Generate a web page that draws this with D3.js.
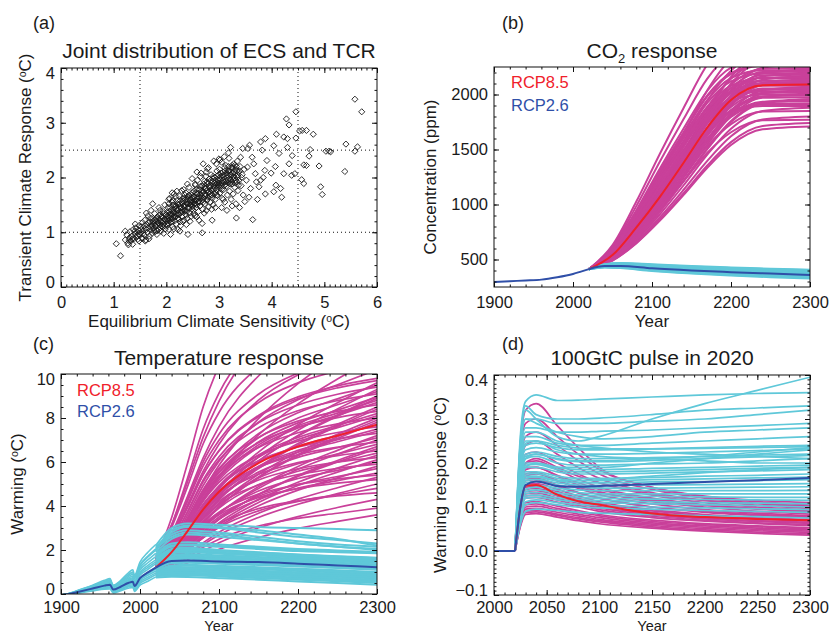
<!DOCTYPE html>
<html>
<head>
<meta charset="utf-8">
<script src="https://cdnjs.cloudflare.com/ajax/libs/d3/7.8.5/d3.min.js"></script>
<style>
body { margin: 0; background: #fff; }
svg text { font-family: Arial, "Liberation Sans", Helvetica, sans-serif; fill: #1a1a1a; }
</style>
</head>
<body>
<svg id="chart" width="831" height="635"></svg>
<script>

// ---------- panel (a): ECS vs TCR ----------
var ecsTcr = [
 [1.05,0.79],[1.13,0.57],[1.22,0.86],[1.25,0.95],[1.27,0.80],[1.30,0.90],[1.31,1.01],[1.33,0.84],[1.35,0.93],[1.37,1.05],
 [1.38,0.88],[1.40,0.97],[1.42,1.08],[1.43,0.91],[1.45,1.00],[1.46,0.87],[1.48,1.12],[1.49,0.95],[1.28,0.77],[1.36,0.78],
 [1.41,1.15],[1.47,1.04],[1.22,1.02],[1.29,0.85],
 [1.51,0.99],[1.52,1.10],[1.54,0.90],[1.55,1.18],[1.56,1.03],[1.58,0.95],[1.59,1.22],[1.60,1.07],[1.61,0.86],[1.63,1.14],
 [1.64,1.00],[1.65,1.30],[1.66,1.08],[1.68,0.93],[1.69,1.19],[1.70,1.04],[1.71,1.40],[1.72,1.12],[1.73,0.98],[1.75,1.25],
 [1.76,1.07],[1.77,1.16],[1.78,1.34],[1.79,1.01],[1.80,1.21],[1.81,1.11],[1.82,0.96],[1.83,1.28],[1.84,1.17],[1.85,1.05],
 [1.86,1.45],[1.87,1.23],[1.88,1.13],[1.89,1.33],[1.90,1.02],[1.91,1.19],[1.92,1.27],[1.93,1.09],[1.94,1.38],[1.95,1.15],
 [1.96,1.24],[1.97,1.50],[1.98,1.06],[1.99,1.31],[1.74,1.52],[1.62,1.35],[1.67,0.88],[1.60,0.84],[1.83,1.03],
 [2.00,1.20],[2.01,1.36],[2.02,1.12],[2.03,1.45],[2.04,1.27],[2.05,1.05],[2.06,1.62],[2.07,1.33],[2.08,1.18],[2.09,1.41],
 [2.10,1.25],[2.11,1.55],[2.12,1.10],[2.13,1.37],[2.14,1.29],[2.15,1.70],[2.16,1.21],[2.17,1.47],[2.18,1.34],[2.19,1.15],
 [2.20,1.58],[2.21,1.40],[2.22,1.26],[2.23,1.51],[2.24,1.32],[2.25,1.66],[2.26,1.19],[2.27,1.44],[2.28,1.36],[2.29,1.76],
 [2.30,1.28],[2.31,1.53],[2.32,1.42],[2.33,1.22],[2.34,1.62],[2.35,1.47],[2.36,1.33],[2.37,1.72],[2.38,1.55],[2.39,1.38],
 [2.40,1.25],[2.41,1.60],[2.42,1.46],[2.43,1.82],[2.44,1.35],[2.45,1.56],[2.46,1.50],[2.47,1.29],[2.48,1.68],[2.49,1.43],
 [2.12,1.58],[2.27,1.12],[2.38,1.14],[2.05,1.52],[2.18,1.65],[2.33,1.78],[2.45,1.20],[2.22,1.05],[2.08,0.96],[2.41,0.96],
 [2.11,1.72],
 [2.50,1.62],[2.51,1.40],[2.52,1.75],[2.53,1.52],[2.54,1.30],[2.55,1.86],[2.56,1.58],[2.57,1.45],[2.58,1.70],[2.59,1.95],
 [2.60,1.55],[2.61,1.38],[2.62,1.78],[2.63,1.63],[2.64,1.48],[2.65,2.02],[2.66,1.69],[2.67,1.57],[2.68,1.84],[2.69,1.42],
 [2.70,1.74],[2.71,1.62],[2.72,1.93],[2.73,1.52],[2.74,1.80],[2.75,1.68],[2.76,2.10],[2.77,1.58],[2.78,1.88],[2.79,1.73],
 [2.80,1.46],[2.81,1.97],[2.82,1.65],[2.83,1.82],[2.84,1.55],[2.85,2.05],[2.86,1.76],[2.87,1.62],[2.88,1.92],[2.89,1.50],
 [2.90,1.85],[2.91,1.71],[2.92,2.00],[2.93,1.60],[2.94,1.88],[2.95,1.78],[2.96,2.12],[2.97,1.67],[2.98,1.95],[2.99,1.83],
 [2.58,1.28],[2.72,1.35],[2.86,1.42],[2.66,2.08],[2.80,2.18],[2.68,0.99],[2.68,1.16],[2.87,1.22],[2.49,1.98],[2.78,2.16],
 [3.00,1.90],[3.01,2.15],[3.02,1.72],[3.03,2.02],[3.04,1.85],[3.05,2.28],[3.06,1.62],[3.07,1.95],[3.08,2.10],[3.09,1.78],
 [3.10,2.05],[3.11,1.55],[3.12,1.92],[3.13,2.22],[3.14,1.84],[3.15,2.00],[3.16,1.68],[3.17,2.12],[3.18,1.90],[3.19,2.35],
 [3.20,1.75],[3.21,2.05],[3.22,1.96],[3.23,1.60],[3.24,2.18],[3.25,1.88],[3.26,2.08],[3.27,1.70],[3.28,2.25],[3.29,1.98],
 [3.30,1.82],[3.31,2.14],[3.32,1.52],[3.33,2.02],[3.34,1.92],[3.35,2.30],[3.36,1.76],[3.37,2.10],[3.38,1.95],[3.40,2.20],
 [3.42,1.85],[3.44,2.05],[3.46,1.68],[3.48,2.15],[3.05,1.45],[3.15,1.40],[3.25,1.48],[3.10,2.38],[3.02,2.32],[3.00,2.34],
 [3.22,2.55],
 [1.62,1.05],[1.66,1.18],[1.71,1.09],[1.74,1.20],[1.78,1.12],[1.81,1.26],[1.85,1.18],[1.88,1.08],[1.91,1.29],[1.94,1.21],
 [1.97,1.12],[2.00,1.32],[2.02,1.24],[2.04,1.16],[2.06,1.38],[2.08,1.28],[2.10,1.19],[2.12,1.33],[2.14,1.42],[2.16,1.27],
 [2.18,1.48],[2.20,1.31],[2.22,1.42],[2.24,1.24],[2.26,1.52],[2.28,1.45],[2.30,1.37],[2.32,1.57],[2.34,1.40],[2.36,1.50],
 [2.38,1.31],[2.40,1.65],[2.42,1.52],[2.44,1.44],[2.46,1.62],[2.48,1.55],[2.50,1.47],[2.52,1.66],[2.54,1.58],[2.56,1.72],
 [2.58,1.50],[2.60,1.65],[2.62,1.57],[2.64,1.78],[2.66,1.62],[2.68,1.72],[2.70,1.55],[2.72,1.82],[2.74,1.66],[2.76,1.76],
 [2.78,1.60],[2.80,1.90],[2.82,1.74],[2.84,1.85],[2.86,1.68],[2.88,1.98],[2.90,1.78],[2.92,1.90],[2.94,1.72],[2.96,2.02],
 [2.98,1.86],[3.00,1.98],[3.02,1.80],[3.04,2.08],[3.06,1.90],[3.08,2.00],[3.10,1.85],[3.12,2.12],[3.14,1.95],[3.16,2.05],
 [3.18,2.20],[3.20,1.98],[3.22,2.10],[3.24,1.92],[3.26,2.18],[3.28,2.02],[3.30,2.22],[3.32,1.95],[3.34,2.12],[3.36,2.05],
 [1.55,0.97],[1.58,1.12],[1.52,1.05],[1.45,0.94],[1.40,1.02],[1.35,0.88],[2.35,1.68],[2.55,1.88],[2.75,2.02],[2.95,2.25],
 [1.72,1.15],[1.76,1.02],[1.79,1.23],[1.82,1.14],[1.86,1.31],[1.89,1.20],[1.92,1.11],[1.95,1.34],[1.98,1.23],[2.01,1.15],
 [2.03,1.30],[2.05,1.22],[2.07,1.45],[2.09,1.33],[2.11,1.24],[2.13,1.50],[2.15,1.36],[2.17,1.28],[2.19,1.43],[2.21,1.52],
 [2.23,1.35],[2.25,1.47],[2.27,1.58],[2.29,1.40],[2.31,1.62],[2.33,1.48],[2.35,1.38],[2.37,1.60],[2.39,1.52],[2.41,1.44],
 [2.43,1.68],[2.45,1.58],[2.47,1.50],[2.49,1.72],[2.51,1.55],[2.53,1.64],[2.55,1.52],[2.57,1.78],[2.59,1.62],[2.61,1.70],
 [2.63,1.55],[2.65,1.84],[2.67,1.66],[2.69,1.76],[2.71,1.88],[2.73,1.70],[2.75,1.80],[2.77,1.92],[2.79,1.64],[2.81,1.84],
 [2.83,1.70],[2.85,1.95],[2.87,1.80],[2.89,2.02],[2.91,1.82],[2.93,1.95],[2.95,1.68],[2.97,1.90],[2.99,2.05],[3.01,1.86],
 [3.03,1.96],[3.05,1.78],[3.07,2.04],[3.09,1.92],[3.11,2.18],[3.13,1.88],[3.15,2.08],[3.17,1.95],[3.19,2.12],[3.21,1.88],
 [3.23,2.04],[3.25,2.22],[3.27,1.96],[3.29,2.10],[3.31,1.90],[3.33,2.20],[3.35,2.00],[3.37,1.86],[3.39,2.12],[3.43,2.00],
 [2.14,1.06],[2.31,1.20],[2.52,1.34],[2.62,1.22],[2.76,1.40],[2.93,1.45],[3.08,1.60],[2.20,1.75],[2.40,1.88],[2.58,2.10],
 [2.70,2.25],[2.90,2.30],[3.18,2.45],[2.05,1.60],[1.88,1.40],[1.70,1.26],[1.55,0.88],[1.48,0.84],[1.95,0.98],[2.26,1.02],
 [3.33,1.26],[3.39,1.45],[3.49,1.56],[3.57,1.64],[3.64,1.23],[3.73,1.60],[3.76,1.83],[3.79,1.95],[3.87,2.13],[3.91,2.31],
 [3.82,2.50],[3.79,2.65],[3.88,2.71],[3.58,2.59],[3.55,2.53],[3.45,2.53],[3.63,2.37],[3.66,2.25],[3.69,2.07],[3.54,2.19],
 [3.41,2.37],[3.88,1.70],[3.52,1.95],[3.60,1.80],[3.71,1.92],[3.84,2.00],
 [4.04,1.74],[4.07,2.20],[3.99,2.08],[4.04,2.58],[4.14,2.44],[4.23,2.07],[4.08,1.86],[4.17,1.80],[4.19,1.64],[4.09,2.79],
 [4.23,2.74],[4.30,2.71],[4.28,3.07],[4.33,2.96],[4.46,3.20],[4.53,2.85],[4.58,2.86],[4.66,2.86],[4.79,2.79],[4.46,2.72],
 [4.39,2.40],[4.33,2.25],[4.44,2.07],[4.38,2.04],[4.30,2.55],[4.73,2.51],[4.71,2.39],[4.66,2.22],[4.61,2.23],[4.57,1.96],
 [4.61,1.89],[4.90,2.21],[4.93,1.83],[4.96,1.69],[5.03,2.48],[5.09,2.48],[5.12,2.47],[5.41,2.61],[5.63,2.56],[5.58,2.48],
 [5.39,2.11],[5.58,3.43],[5.71,3.20]
];
var ecsTicks = [0, 1, 2, 3, 4, 5, 6];
var tcrTicks = [0, 1, 2, 3, 4];
var ecsRefLines = [1.5, 4.5];
var tcrRefLines = [1, 2.5];

// ---------- panel (b): CO2 concentration (ppm) ----------
var co2HistYears = [1900, 1920, 1940, 1960, 1980, 2000, 2010, 2020];
var co2Hist = [296, 303, 309, 317, 339, 369, 390, 412];
var co2Rcp85Years = [2020, 2050, 2080, 2110, 2140, 2170, 2200, 2240, 2300];
var co2Rcp85Median = [412, 540, 790, 1070, 1380, 1700, 1950, 2085, 2090];
var co2Rcp85Members = [
 [412, 631, 1025, 1462, 1878, 2272, 2512, 2600, 2600],
 [412, 616, 983, 1390, 1777, 2144, 2368, 2450, 2450],
 [412, 562, 855, 1207, 1569, 1945, 2217, 2374, 2380],
 [412, 603, 946, 1328, 1690, 2034, 2244, 2320, 2320],
 [412, 524, 748, 1047, 1383, 1738, 2037, 2243, 2280],
 [412, 551, 823, 1150, 1487, 1836, 2088, 2234, 2240],
 [412, 593, 918, 1280, 1623, 1949, 2148, 2220, 2220],
 [412, 519, 734, 1020, 1342, 1681, 1968, 2164, 2200],
 [412, 546, 810, 1126, 1452, 1789, 2033, 2175, 2180],
 [412, 586, 899, 1246, 1576, 1889, 2080, 2150, 2150],
 [412, 543, 799, 1106, 1422, 1750, 1987, 2125, 2130],
 [412, 514, 719, 993, 1300, 1625, 1898, 2086, 2120],
 [412, 581, 885, 1222, 1543, 1847, 2032, 2100, 2100],
 [412, 511, 710, 976, 1274, 1589, 1854, 2037, 2070],
 [412, 536, 781, 1074, 1375, 1688, 1914, 2045, 2050],
 [412, 574, 865, 1189, 1496, 1787, 1965, 2030, 2030],
 [412, 508, 700, 955, 1243, 1547, 1802, 1978, 2010],
 [412, 532, 767, 1049, 1340, 1641, 1859, 1985, 1990],
 [412, 505, 691, 938, 1217, 1511, 1759, 1929, 1960],
 [412, 528, 756, 1029, 1311, 1602, 1813, 1935, 1940],
 [412, 562, 831, 1131, 1416, 1685, 1850, 1910, 1910],
 [412, 500, 676, 911, 1175, 1454, 1689, 1851, 1880],
 [412, 521, 736, 993, 1258, 1532, 1731, 1846, 1850],
 [412, 495, 662, 884, 1134, 1397, 1620, 1772, 1800],
 [412, 515, 718, 961, 1211, 1470, 1657, 1766, 1770],
 [412, 492, 651, 864, 1103, 1355, 1567, 1713, 1740],
 [412, 490, 646, 853, 1087, 1334, 1541, 1684, 1710],
 [412, 571, 882, 1256, 1640, 2039, 2327, 2494, 2500],
 [412, 532, 773, 1095, 1456, 1838, 2159, 2380, 2420],
 [412, 598, 932, 1304, 1657, 1991, 2196, 2270, 2270],
 [412, 521, 739, 1030, 1357, 1703, 1994, 2194, 2230],
 [412, 549, 817, 1138, 1469, 1813, 2061, 2205, 2210],
 [412, 590, 910, 1265, 1603, 1923, 2119, 2190, 2190],
 [412, 517, 728, 1010, 1326, 1660, 1941, 2135, 2170],
 [412, 545, 805, 1118, 1440, 1774, 2015, 2155, 2160],
 [412, 516, 723, 1000, 1311, 1639, 1915, 2105, 2140],
 [412, 541, 794, 1098, 1410, 1735, 1969, 2105, 2110],
 [412, 579, 879, 1213, 1530, 1830, 2013, 2080, 2080],
 [412, 537, 783, 1078, 1381, 1696, 1923, 2055, 2060],
 [412, 510, 705, 966, 1259, 1568, 1828, 2007, 2040],
 [412, 534, 774, 1062, 1358, 1665, 1887, 2015, 2020],
 [412, 571, 857, 1174, 1476, 1762, 1936, 2000, 2000],
 [412, 531, 764, 1043, 1331, 1630, 1845, 1970, 1975],
 [412, 504, 689, 935, 1212, 1504, 1750, 1919, 1950],
 [412, 527, 751, 1021, 1299, 1587, 1795, 1915, 1920],
 [412, 560, 827, 1124, 1406, 1673, 1836, 1895, 1895],
 [412, 555, 837, 1175, 1522, 1883, 2143, 2294, 2300],
 [412, 528, 761, 1071, 1420, 1788, 2098, 2311, 2350],
 [412, 597, 929, 1299, 1650, 1983, 2186, 2260, 2260],
 [412, 583, 892, 1234, 1560, 1868, 2056, 2125, 2125]
];
var co2Rcp26Years = [2020, 2040, 2060, 2100, 2150, 2200, 2250, 2300];
var co2Rcp26Median = [412, 440, 442, 420, 400, 385, 372, 360];
var co2Rcp26Members = [
 [412, 452, 462, 448, 430, 416, 404, 393],
 [412, 448, 455, 437, 419, 405, 393, 382],
 [412, 444, 448, 428, 409, 394, 381, 370],
 [412, 437, 436, 413, 392, 376, 362, 350],
 [412, 433, 430, 405, 383, 366, 352, 340],
 [412, 429, 423, 396, 373, 355, 340, 328],
 [412, 455, 468, 456, 440, 427, 416, 406],
 [412, 446, 451, 433, 414, 399, 387, 376],
 [412, 435, 433, 409, 387, 371, 357, 345],
 [412, 441, 445, 424, 404, 389, 376, 365],
 [412, 450, 458, 442, 424, 410, 398, 387],
 [412, 439, 440, 417, 396, 380, 366, 355],
 [412, 431, 426, 400, 378, 360, 346, 334],
 [412, 453, 465, 452, 435, 421, 410, 400],
 [412, 443, 447, 426, 406, 391, 378, 367],
 [412, 436, 434, 411, 389, 373, 359, 347]
];
var co2YTicks = [500, 1000, 1500, 2000];
var yearTicks = [1900, 2000, 2100, 2200, 2300];

// ---------- panel (c): warming (degC) ----------
var tHistYears = [1900, 1910, 1920, 1940, 1955, 1962, 1966, 1975, 1985, 1991, 1993, 2000, 2010, 2020];
var tHistMedian = [-0.05, 0.0, 0.08, 0.25, 0.38, 0.42, 0.2, 0.32, 0.5, 0.56, 0.36, 0.72, 0.98, 1.2];
var tHistMembers = [
 [-0.05, 0.02, 0.15, 0.40, 0.62, 0.70, 0.40, 0.60, 0.95, 1.10, 0.85, 1.45, 1.90, 2.25],
 [-0.05, 0.01, 0.12, 0.34, 0.52, 0.58, 0.33, 0.50, 0.78, 0.90, 0.68, 1.20, 1.55, 1.85],
 [-0.05, 0.01, 0.10, 0.30, 0.45, 0.50, 0.27, 0.42, 0.65, 0.74, 0.53, 0.98, 1.30, 1.55],
 [-0.05, 0.00, 0.07, 0.22, 0.33, 0.36, 0.15, 0.26, 0.42, 0.48, 0.28, 0.62, 0.85, 1.05],
 [-0.05, -0.01, 0.05, 0.17, 0.26, 0.28, 0.08, 0.18, 0.32, 0.36, 0.17, 0.48, 0.68, 0.88],
 [-0.05, 0.00, 0.09, 0.27, 0.41, 0.46, 0.24, 0.37, 0.57, 0.64, 0.45, 0.85, 1.12, 1.38],
 [-0.05, 0.02, 0.14, 0.37, 0.57, 0.64, 0.37, 0.55, 0.87, 1.00, 0.77, 1.32, 1.72, 2.05],
 [-0.05, -0.01, 0.04, 0.14, 0.22, 0.23, 0.05, 0.14, 0.26, 0.30, 0.12, 0.40, 0.58, 0.78],
 [-0.05, 0.01, 0.11, 0.32, 0.48, 0.54, 0.30, 0.46, 0.71, 0.82, 0.60, 1.09, 1.42, 1.70],
 [-0.05, 0.00, 0.08, 0.25, 0.37, 0.41, 0.19, 0.31, 0.49, 0.56, 0.36, 0.73, 0.98, 1.22],
 [-0.05, 0.00, 0.06, 0.19, 0.29, 0.32, 0.11, 0.22, 0.37, 0.42, 0.22, 0.55, 0.76, 0.96],
 [-0.05, 0.02, 0.13, 0.36, 0.55, 0.62, 0.36, 0.54, 0.85, 0.98, 0.76, 1.30, 1.68, 2.00],
 [-0.05, 0.01, 0.10, 0.28, 0.43, 0.48, 0.26, 0.40, 0.61, 0.69, 0.49, 0.92, 1.21, 1.46],
 [-0.05, 0.00, 0.07, 0.23, 0.35, 0.39, 0.17, 0.29, 0.46, 0.52, 0.32, 0.68, 0.92, 1.14]
];
var tRcp85Years = [2020, 2040, 2060, 2080, 2100, 2150, 2200, 2250, 2300];
var tRcp85Median = [1.2, 1.9, 2.85, 3.85, 4.65, 5.95, 6.7, 7.2, 7.7];
var tRcp85Members = [
 [1.6, 3.47, 5.92, 8.51, 10.38, 13.1, 14.6, 15.5, 16],
 [1.5, 3.13, 5.25, 7.5, 9.13, 11.5, 12.75, 13.5, 14],
 [1.5, 2.74, 4.42, 6.19, 7.61, 9.91, 11.23, 12.11, 13],
 [1.4, 2.25, 3.41, 4.69, 5.85, 7.97, 9.56, 10.83, 12],
 [1.4, 2.65, 4.28, 6.01, 7.26, 9.08, 10.04, 10.62, 11],
 [1.3, 2.26, 3.56, 4.93, 6.03, 7.81, 8.83, 9.51, 10.2],
 [1.3, 1.96, 2.88, 3.87, 4.79, 6.45, 7.69, 8.69, 9.6],
 [1.3, 2.35, 3.73, 5.19, 6.24, 7.78, 8.59, 9.08, 9.4],
 [1.4, 2.24, 3.38, 4.58, 5.54, 7.1, 8.0, 8.6, 9.2],
 [1.2, 1.82, 2.68, 3.62, 4.48, 6.04, 7.21, 8.14, 9.0],
 [1.3, 2.11, 3.21, 4.36, 5.28, 6.78, 7.65, 8.22, 8.8],
 [1.2, 2.16, 3.42, 4.75, 5.71, 7.12, 7.86, 8.3, 8.6],
 [1.3, 1.87, 2.65, 3.5, 4.28, 5.7, 6.77, 7.62, 8.4],
 [1.2, 1.96, 2.98, 4.06, 4.92, 6.32, 7.12, 7.66, 8.2],
 [1.3, 2.17, 3.31, 4.52, 5.39, 6.66, 7.33, 7.73, 8.0],
 [1.1, 1.64, 2.39, 3.21, 3.96, 5.32, 6.34, 7.15, 7.9],
 [1.2, 1.88, 2.8, 3.77, 4.55, 5.81, 6.53, 7.01, 7.5],
 [1.1, 1.91, 2.96, 4.08, 4.88, 6.06, 6.68, 7.05, 7.3],
 [1.2, 1.66, 2.3, 3.0, 3.64, 4.8, 5.67, 6.36, 7.0],
 [1.1, 1.72, 2.55, 3.43, 4.13, 5.27, 5.92, 6.36, 6.8],
 [1.2, 1.89, 2.79, 3.74, 4.43, 5.44, 5.97, 6.29, 6.5],
 [1.0, 1.42, 2.01, 2.64, 3.23, 4.29, 5.08, 5.72, 6.3],
 [1.1, 1.63, 2.34, 3.1, 3.7, 4.68, 5.25, 5.62, 6.0],
 [1.1, 1.48, 1.99, 2.56, 3.07, 4.01, 4.72, 5.28, 5.8],
 [1.0, 1.49, 2.14, 2.84, 3.39, 4.29, 4.81, 5.15, 5.5],
 [1.1, 1.63, 2.33, 3.07, 3.6, 4.38, 4.79, 5.04, 5.2],
 [1.0, 1.32, 1.76, 2.24, 2.68, 3.48, 4.08, 4.56, 5.0],
 [1.0, 1.41, 1.97, 2.55, 3.02, 3.78, 4.21, 4.51, 4.8],
 [0.9, 1.17, 1.55, 1.95, 2.33, 3.01, 3.52, 3.93, 4.3],
 [0.9, 1.22, 1.66, 2.12, 2.49, 3.09, 3.44, 3.67, 3.9],
 [0.9, 1.12, 1.41, 1.74, 2.03, 2.57, 2.98, 3.3, 3.6],
 [1.4, 2.15, 3.19, 4.31, 5.35, 7.23, 8.64, 9.77, 10.8],
 [1.6, 3.02, 4.87, 6.83, 8.25, 10.32, 11.41, 12.06, 12.5],
 [1.4, 2.49, 3.92, 5.43, 6.52, 8.12, 8.96, 9.46, 9.8],
 [1.4, 2.0, 2.83, 3.73, 4.55, 6.05, 7.18, 8.08, 8.9],
 [1.3, 1.99, 2.93, 3.91, 4.7, 5.98, 6.71, 7.21, 7.7],
 [1.1, 1.54, 2.15, 2.81, 3.41, 4.51, 5.34, 6.0, 6.6],
 [1.2, 1.81, 2.61, 3.46, 4.07, 4.96, 5.43, 5.71, 5.9],
 [1.0, 1.47, 2.08, 2.73, 3.2, 3.88, 4.24, 4.46, 4.6],
 [1.7, 3.14, 5.08, 7.13, 8.76, 11.42, 12.95, 13.98, 15],
 [1.3, 2.19, 3.38, 4.65, 5.65, 7.29, 8.24, 8.87, 9.5],
 [1.2, 1.85, 2.74, 3.71, 4.6, 6.22, 7.44, 8.41, 9.3],
 [1.4, 2.4, 3.71, 5.1, 6.1, 7.56, 8.33, 8.79, 9.1],
 [1.2, 2.01, 3.11, 4.26, 5.18, 6.68, 7.55, 8.12, 8.7],
 [1.3, 1.88, 2.67, 3.53, 4.32, 5.76, 6.84, 7.71, 8.5],
 [1.2, 2.12, 3.33, 4.61, 5.53, 6.88, 7.59, 8.02, 8.3],
 [1.1, 1.86, 2.88, 3.96, 4.82, 6.22, 7.02, 7.56, 8.1],
 [1.2, 1.73, 2.45, 3.25, 3.97, 5.29, 6.28, 7.07, 7.8],
 [1.1, 1.95, 3.05, 4.22, 5.07, 6.3, 6.95, 7.34, 7.6],
 [1.2, 1.87, 2.77, 3.73, 4.49, 5.73, 6.45, 6.92, 7.4],
 [1.1, 1.59, 2.26, 2.99, 3.66, 4.88, 5.8, 6.53, 7.2],
 [1.3, 1.93, 2.77, 3.67, 4.38, 5.54, 6.21, 6.65, 7.1],
 [1.2, 1.94, 2.91, 3.94, 4.68, 5.76, 6.33, 6.67, 6.9],
 [1.0, 1.46, 2.08, 2.77, 3.39, 4.53, 5.39, 6.07, 6.7],
 [1.1, 1.67, 2.45, 3.26, 3.91, 4.97, 5.58, 5.99, 6.4],
 [1.1, 1.76, 2.63, 3.55, 4.21, 5.18, 5.69, 6.0, 6.2],
 [1.0, 1.41, 1.97, 2.58, 3.14, 4.16, 4.93, 5.54, 6.1],
 [1.0, 1.51, 2.19, 2.92, 3.5, 4.44, 4.98, 5.34, 5.7],
 [1.1, 1.66, 2.39, 3.16, 3.72, 4.54, 4.97, 5.23, 5.4],
 [1.0, 1.34, 1.82, 2.33, 2.81, 3.67, 4.31, 4.83, 5.3],
 [1.5, 2.57, 3.96, 5.44, 6.5, 8.06, 8.88, 9.37, 9.7],
 [1.35, 2.17, 3.28, 4.45, 5.39, 6.91, 7.78, 8.36, 8.95],
 [1.25, 1.79, 2.53, 3.34, 4.09, 5.44, 6.45, 7.26, 8.0],
 [1.5, 2.58, 4.04, 5.58, 6.81, 8.81, 9.96, 10.73, 11.5],
 [1.5, 2.67, 4.2, 5.82, 6.99, 8.7, 9.6, 10.14, 10.5]
];
var tRcp26Years = [2020, 2040, 2060, 2100, 2150, 2200, 2250, 2300];
var tRcp26Median = [1.2, 1.5, 1.52, 1.48, 1.45, 1.38, 1.3, 1.22];
var tRcp26Members = [
 [2.2, 3.0, 3.2, 3.15, 3.05, 3.0, 2.95, 2.9],
 [2.1, 2.8, 3.05, 3.0, 2.8, 2.6, 2.45, 2.3],
 [2.0, 2.7, 2.9, 2.8, 2.6, 2.4, 2.25, 2.15],
 [1.9, 2.5, 2.7, 2.6, 2.45, 2.3, 2.15, 2.05],
 [1.7, 2.15, 2.2, 2.15, 2.05, 1.95, 1.9, 1.85],
 [1.6, 2.05, 2.1, 2.0, 1.9, 1.8, 1.72, 1.65],
 [1.5, 1.9, 1.95, 1.88, 1.8, 1.7, 1.62, 1.55],
 [1.4, 1.78, 1.82, 1.75, 1.68, 1.6, 1.52, 1.45],
 [1.3, 1.65, 1.7, 1.65, 1.58, 1.5, 1.42, 1.35],
 [1.2, 1.55, 1.6, 1.55, 1.48, 1.4, 1.32, 1.25],
 [1.1, 1.4, 1.42, 1.38, 1.32, 1.25, 1.18, 1.1],
 [1.05, 1.3, 1.33, 1.28, 1.22, 1.15, 1.08, 1.0],
 [1.0, 1.2, 1.22, 1.18, 1.12, 1.05, 0.98, 0.9],
 [0.95, 1.1, 1.12, 1.08, 1.02, 0.95, 0.88, 0.8],
 [0.9, 1.0, 1.02, 0.98, 0.92, 0.85, 0.78, 0.7],
 [0.85, 0.92, 0.93, 0.88, 0.82, 0.75, 0.68, 0.6],
 [0.8, 0.85, 0.85, 0.8, 0.72, 0.65, 0.58, 0.5],
 [0.75, 0.78, 0.77, 0.72, 0.65, 0.57, 0.5, 0.42],
 [1.8, 2.3, 2.35, 2.25, 2.15, 2.05, 1.98, 1.92],
 [1.35, 1.72, 1.76, 1.7, 1.63, 1.55, 1.48, 1.42],
 [1.15, 1.47, 1.5, 1.45, 1.38, 1.3, 1.22, 1.15],
 [0.98, 1.15, 1.17, 1.12, 1.06, 0.99, 0.92, 0.85],
 [2.05, 2.6, 2.8, 2.7, 2.5, 2.3, 2.15, 2.0],
 [1.95, 2.9, 3.1, 3.05, 2.9, 2.7, 2.5, 2.2],
 [1.62, 2.0, 2.05, 1.97, 1.88, 1.78, 1.7, 1.62],
 [1.45, 1.85, 1.9, 1.83, 1.75, 1.65, 1.58, 1.5],
 [1.25, 1.6, 1.65, 1.6, 1.52, 1.44, 1.36, 1.3],
 [1.12, 1.43, 1.46, 1.41, 1.35, 1.28, 1.2, 1.12],
 [1.02, 1.25, 1.28, 1.23, 1.17, 1.1, 1.03, 0.95],
 [0.92, 1.05, 1.07, 1.03, 0.97, 0.9, 0.83, 0.75],
 [0.82, 0.88, 0.89, 0.84, 0.77, 0.7, 0.63, 0.55],
 [1.75, 2.2, 2.25, 2.18, 2.1, 2.0, 1.94, 1.88],
 [1.55, 1.95, 2.0, 1.93, 1.85, 1.75, 1.67, 1.6],
 [0.88, 0.96, 0.97, 0.93, 0.87, 0.8, 0.73, 0.65]
];
var tYTicks = [0, 2, 4, 6, 8, 10];

// ---------- panel (d): response to 100 GtC pulse (degC) ----------
var pulsePreYears = [2000, 2020];
var pulsePre = [0, 0];
var pulseYears = [2020, 2025, 2030, 2040, 2060, 2080, 2100, 2150, 2200, 2250, 2300];
var pulseRcp26Median = [0, 0.1, 0.15, 0.158, 0.148, 0.146, 0.148, 0.152, 0.157, 0.161, 0.166];
var pulseRcp85Median = [0, 0.1, 0.148, 0.15, 0.128, 0.113, 0.105, 0.085, 0.077, 0.073, 0.07];
var pulseRcp26Members = [
 [0, 0.26, 0.34, 0.355, 0.342, 0.343, 0.345, 0.35, 0.355, 0.358, 0.36],
 [0, 0.24, 0.32, 0.30, 0.26, 0.25, 0.26, 0.30, 0.335, 0.365, 0.395],
 [0, 0.25, 0.33, 0.31, 0.30, 0.30, 0.302, 0.31, 0.32, 0.325, 0.33],
 [0, 0.23, 0.30, 0.30, 0.29, 0.29, 0.29, 0.295, 0.30, 0.31, 0.32],
 [0, 0.22, 0.28, 0.28, 0.27, 0.27, 0.272, 0.275, 0.28, 0.285, 0.29],
 [0, 0.20, 0.26, 0.26, 0.245, 0.24, 0.24, 0.245, 0.25, 0.255, 0.26],
 [0, 0.18, 0.24, 0.245, 0.235, 0.23, 0.23, 0.232, 0.235, 0.238, 0.24],
 [0, 0.17, 0.22, 0.225, 0.215, 0.21, 0.21, 0.212, 0.215, 0.218, 0.22],
 [0, 0.16, 0.21, 0.215, 0.20, 0.195, 0.195, 0.198, 0.20, 0.205, 0.21],
 [0, 0.15, 0.20, 0.20, 0.19, 0.185, 0.185, 0.188, 0.19, 0.193, 0.195],
 [0, 0.14, 0.19, 0.19, 0.18, 0.175, 0.175, 0.177, 0.18, 0.182, 0.185],
 [0, 0.13, 0.18, 0.18, 0.17, 0.165, 0.165, 0.167, 0.17, 0.172, 0.175],
 [0, 0.12, 0.17, 0.17, 0.16, 0.155, 0.155, 0.157, 0.158, 0.16, 0.162],
 [0, 0.11, 0.155, 0.158, 0.15, 0.145, 0.143, 0.143, 0.144, 0.145, 0.146],
 [0, 0.10, 0.14, 0.145, 0.138, 0.133, 0.13, 0.13, 0.13, 0.13, 0.13],
 [0, 0.09, 0.13, 0.133, 0.127, 0.122, 0.12, 0.118, 0.117, 0.116, 0.115],
 [0, 0.08, 0.12, 0.122, 0.116, 0.112, 0.11, 0.107, 0.105, 0.103, 0.10],
 [0, 0.07, 0.105, 0.11, 0.105, 0.10, 0.098, 0.095, 0.092, 0.09, 0.088],
 [0, 0.06, 0.09, 0.095, 0.092, 0.088, 0.086, 0.083, 0.08, 0.078, 0.075],
 [0, 0.20, 0.27, 0.27, 0.25, 0.24, 0.235, 0.225, 0.22, 0.215, 0.21],
 [0, 0.19, 0.25, 0.25, 0.23, 0.22, 0.215, 0.21, 0.205, 0.20, 0.20],
 [0, 0.24, 0.30, 0.29, 0.27, 0.26, 0.255, 0.26, 0.27, 0.275, 0.28],
 [0, 0.15, 0.21, 0.22, 0.21, 0.205, 0.205, 0.21, 0.215, 0.225, 0.235],
 [0, 0.13, 0.19, 0.20, 0.19, 0.19, 0.19, 0.20, 0.21, 0.22, 0.23],
 [0, 0.12, 0.165, 0.168, 0.16, 0.16, 0.162, 0.17, 0.178, 0.185, 0.19],
 [0, 0.145, 0.195, 0.197, 0.185, 0.18, 0.18, 0.182, 0.185, 0.188, 0.19],
 [0, 0.125, 0.175, 0.176, 0.165, 0.16, 0.16, 0.162, 0.164, 0.166, 0.168],
 [0, 0.115, 0.16, 0.163, 0.155, 0.15, 0.149, 0.15, 0.151, 0.152, 0.153],
 [0, 0.105, 0.148, 0.15, 0.143, 0.139, 0.137, 0.137, 0.137, 0.137, 0.138],
 [0, 0.095, 0.135, 0.139, 0.132, 0.127, 0.125, 0.124, 0.123, 0.122, 0.122],
 [0, 0.085, 0.125, 0.127, 0.121, 0.117, 0.115, 0.112, 0.11, 0.109, 0.107],
 [0, 0.075, 0.112, 0.116, 0.11, 0.106, 0.104, 0.10, 0.098, 0.096, 0.094],
 [0, 0.165, 0.215, 0.22, 0.208, 0.203, 0.203, 0.206, 0.21, 0.214, 0.217],
 [0, 0.175, 0.23, 0.235, 0.225, 0.22, 0.22, 0.222, 0.225, 0.228, 0.232],
 [0, 0.19, 0.245, 0.25, 0.24, 0.234, 0.232, 0.232, 0.233, 0.235, 0.237]
];
var pulseRcp85Members = [
 [0, 0.24, 0.32, 0.335, 0.285, 0.235, 0.19, 0.145, 0.125, 0.115, 0.11],
 [0, 0.22, 0.29, 0.30, 0.26, 0.22, 0.185, 0.145, 0.123, 0.112, 0.105],
 [0, 0.20, 0.26, 0.27, 0.24, 0.205, 0.175, 0.14, 0.12, 0.108, 0.10],
 [0, 0.18, 0.24, 0.25, 0.22, 0.19, 0.165, 0.133, 0.115, 0.104, 0.097],
 [0, 0.16, 0.22, 0.225, 0.20, 0.175, 0.155, 0.127, 0.11, 0.10, 0.093],
 [0, 0.15, 0.20, 0.205, 0.185, 0.163, 0.145, 0.12, 0.105, 0.095, 0.088],
 [0, 0.14, 0.19, 0.19, 0.17, 0.15, 0.135, 0.112, 0.10, 0.09, 0.084],
 [0, 0.13, 0.175, 0.178, 0.16, 0.142, 0.128, 0.107, 0.094, 0.086, 0.08],
 [0, 0.12, 0.165, 0.165, 0.15, 0.133, 0.12, 0.10, 0.088, 0.081, 0.076],
 [0, 0.11, 0.15, 0.153, 0.14, 0.125, 0.112, 0.094, 0.083, 0.076, 0.072],
 [0, 0.10, 0.14, 0.142, 0.13, 0.116, 0.105, 0.088, 0.078, 0.072, 0.068],
 [0, 0.09, 0.13, 0.132, 0.12, 0.108, 0.098, 0.082, 0.073, 0.067, 0.063],
 [0, 0.085, 0.12, 0.122, 0.111, 0.10, 0.09, 0.076, 0.068, 0.062, 0.058],
 [0, 0.08, 0.11, 0.112, 0.102, 0.092, 0.083, 0.07, 0.062, 0.057, 0.053],
 [0, 0.07, 0.10, 0.102, 0.093, 0.084, 0.076, 0.064, 0.057, 0.052, 0.048],
 [0, 0.06, 0.09, 0.092, 0.084, 0.076, 0.069, 0.058, 0.051, 0.046, 0.042],
 [0, 0.055, 0.083, 0.085, 0.077, 0.069, 0.062, 0.052, 0.045, 0.04, 0.036],
 [0, 0.14, 0.20, 0.21, 0.19, 0.17, 0.155, 0.13, 0.115, 0.108, 0.102],
 [0, 0.12, 0.17, 0.175, 0.16, 0.145, 0.133, 0.115, 0.104, 0.097, 0.092],
 [0, 0.105, 0.145, 0.147, 0.135, 0.12, 0.108, 0.091, 0.08, 0.074, 0.07],
 [0, 0.095, 0.135, 0.137, 0.125, 0.112, 0.101, 0.085, 0.075, 0.069, 0.065],
 [0, 0.088, 0.125, 0.127, 0.116, 0.104, 0.094, 0.079, 0.07, 0.064, 0.06],
 [0, 0.075, 0.105, 0.107, 0.097, 0.088, 0.08, 0.067, 0.06, 0.055, 0.05],
 [0, 0.065, 0.095, 0.097, 0.088, 0.08, 0.072, 0.061, 0.054, 0.049, 0.045],
 [0, 0.058, 0.087, 0.089, 0.081, 0.073, 0.066, 0.055, 0.048, 0.043, 0.039],
 [0, 0.13, 0.185, 0.19, 0.172, 0.155, 0.14, 0.118, 0.104, 0.096, 0.09],
 [0, 0.11, 0.16, 0.162, 0.147, 0.132, 0.12, 0.10, 0.09, 0.083, 0.078]
];
var pulseYTicks = [-0.1, 0.0, 0.1, 0.2, 0.3, 0.4];
var pulseXTicks = [2000, 2050, 2100, 2150, 2200, 2250, 2300];

// ---------- colours ----------
var col85 = "#c9409a", col26 = "#5fc8d9", colRed = "#f0202a", colBlue = "#2f4fa8";

var svg = d3.select("#chart");

function zip(years, vals) {
  return years.map(function(yr, i) { return [yr, vals[i]]; });
}

function makePanel(name, box, xDom, yDom) {
  var x = d3.scaleLinear().domain(xDom).range([0, box.w]);
  var y = d3.scaleLinear().domain(yDom).range([box.h, 0]);
  var g = svg.append("g").attr("transform", "translate(" + box.left + "," + box.top + ")");
  g.append("clipPath").attr("id", "clip" + name)
    .append("rect").attr("width", box.w).attr("height", box.h);
  var plot = g.append("g").attr("clip-path", "url(#clip" + name + ")");
  var line = d3.line()
    .x(function(d) { return x(d[0]); })
    .y(function(d) { return y(d[1]); })
    .curve(d3.curveMonotoneX);
  return { x: x, y: y, g: g, plot: plot, box: box, line: line };
}

// inward ticks on all four sides, labels on bottom and left
function drawAxes(p, xMajor, xMinor, yMajor, yMinor, xFmt, yFmt, xPad) {
  var g = p.g, w = p.box.w, h = p.box.h;
  function one(axisFn, scale, vals, size, tr, fmt) {
    var a = axisFn(scale).tickValues(vals).tickSize(-size)
      .tickPadding(fmt ? (axisFn === d3.axisBottom ? xPad : 6) : 0)
      .tickFormat(fmt ? fmt : "");
    var sel = g.append("g").attr("transform", tr).call(a);
    sel.select(".domain").remove();
    sel.selectAll("line").attr("stroke", "#111");
    sel.selectAll("text").style("font-size", "16.5px");
    return sel;
  }
  one(d3.axisBottom, p.x, xMinor, 2.5, "translate(0," + h + ")");
  one(d3.axisTop, p.x, xMinor, 2.5, "translate(0,0)");
  one(d3.axisLeft, p.y, yMinor, 2.5, "translate(0,0)");
  one(d3.axisRight, p.y, yMinor, 2.5, "translate(" + w + ",0)");
  one(d3.axisBottom, p.x, xMajor, 5, "translate(0," + h + ")", xFmt);
  one(d3.axisTop, p.x, xMajor, 5, "translate(0,0)");
  var left = one(d3.axisLeft, p.y, yMajor, 5, "translate(0,0)", yFmt);
  one(d3.axisRight, p.y, yMajor, 5, "translate(" + w + ",0)");
  // labels sitting on the frame corners are pulled inside
  var dom = p.y.domain();
  left.selectAll(".tick text").attr("y", function(d) {
    if (Math.abs(d - dom[1]) < 1e-9) return 5;
    if (Math.abs(d - dom[0]) < 1e-9) return -5;
    return 0;
  });
  g.append("rect").attr("width", w).attr("height", h)
    .attr("fill", "none").attr("stroke", "#111").attr("stroke-width", 1);
}

function range(a, b, step) {
  return d3.range(Math.round((b - a) / step) + 1).map(function(i) { return +(a + i * step).toFixed(4); });
}

function degLabel(sel, before) {
  sel.append("tspan").text(before + "(");
  sel.append("tspan").attr("dy", -5).style("font-size", "10.5px").text("o");
  sel.append("tspan").attr("dy", 5).text("C)");
}

function texts(p, tag, title, titleY, tagY, xLabel, xLabelY, xLabelSize, yLabel, yLabelX) {
  var b = p.box;
  svg.append("text").attr("x", b.left > 400 ? b.left + 8 : b.left - 28).attr("y", tagY)
    .style("font-size", "18px").text(tag);
  var t = svg.append("text").attr("x", b.left + b.w / 2).attr("y", titleY)
    .attr("text-anchor", "middle").style("font-size", "21px");
  title(t);
  var xl = svg.append("text").attr("x", b.left + b.w / 2).attr("y", xLabelY)
    .attr("text-anchor", "middle").style("font-size", xLabelSize);
  xLabel(xl);
  var yl = svg.append("text")
    .attr("transform", "translate(" + yLabelX + "," + (b.top + b.h / 2) + ") rotate(-90)")
    .attr("text-anchor", "middle").style("font-size", "17px");
  yLabel(yl);
}

function legend(p, lx, y1, y2) {
  p.g.append("text").attr("x", lx).attr("y", y1).style("font-size", "16.5px")
    .style("fill", colRed).text("RCP8.5");
  p.g.append("text").attr("x", lx).attr("y", y2).style("font-size", "16.5px")
    .style("fill", colBlue).text("RCP2.6");
}

function members(p, years, list, color, width) {
  p.plot.append("g").selectAll("path").data(list).enter().append("path")
    .attr("d", function(v) { return p.line(zip(years, v)); })
    .attr("fill", "none").attr("stroke", color).attr("stroke-width", width);
}

function median(p, years, vals, color) {
  p.plot.append("path").attr("d", p.line(zip(years, vals)))
    .attr("fill", "none").attr("stroke", color).attr("stroke-width", 2);
}

// ================= panel (a) =================
var pa = makePanel("a", { left: 61, top: 68, w: 316, h: 219 }, [0, 6], [0, 4]);
ecsRefLines.forEach(function(v) {
  pa.plot.append("line").attr("x1", pa.x(v)).attr("x2", pa.x(v)).attr("y1", 0).attr("y2", pa.box.h)
    .attr("stroke", "#111").attr("stroke-dasharray", "1,3");
});
tcrRefLines.forEach(function(v) {
  pa.plot.append("line").attr("y1", pa.y(v)).attr("y2", pa.y(v)).attr("x1", 0).attr("x2", pa.box.w)
    .attr("stroke", "#111").attr("stroke-dasharray", "1,3");
});
pa.plot.append("g").selectAll("path").data(ecsTcr).enter().append("path")
  .attr("d", d3.symbol(d3.symbolSquare, 19))
  .attr("transform", function(d) { return "translate(" + pa.x(d[0]) + "," + pa.y(d[1]) + ") rotate(45)"; })
  .attr("fill", "none").attr("stroke", "#1a1a1a").attr("stroke-width", 0.85);
drawAxes(pa, ecsTicks, range(0, 6, 0.1), tcrTicks, range(0, 4, 0.2), d3.format("d"), d3.format("d"), 9);
texts(pa, "(a)", function(t) { t.text("Joint distribution of ECS and TCR"); }, 58, 29,
  function(t) { degLabel(t, "Equilibrium Climate Sensitivity "); }, 327, "17px",
  function(t) { degLabel(t, "Transient Climate Response "); }, 31);

// ================= panel (b) =================
var pb = makePanel("b", { left: 494, top: 67, w: 316, h: 220 }, [1900, 2300], [250, 2250]);
members(pb, co2Rcp85Years, co2Rcp85Members, col85, 2);
members(pb, co2Rcp26Years, co2Rcp26Members, col26, 2.2);
median(pb, co2Rcp85Years, co2Rcp85Median, colRed);
median(pb, co2HistYears, co2Hist, colBlue);
median(pb, co2Rcp26Years, co2Rcp26Median, colBlue);
drawAxes(pb, yearTicks, range(1900, 2300, 20), co2YTicks, range(300, 2200, 100), d3.format("d"), d3.format("d"), 9);
legend(pb, 17, 21, 44);
texts(pb, "(b)", function(t) {
    t.append("tspan").text("CO");
    t.append("tspan").attr("dy", 5).style("font-size", "13px").text("2");
    t.append("tspan").attr("dy", -5).text(" response");
  }, 58, 29,
  function(t) { t.text("Year"); }, 327, "17px",
  function(t) { t.text("Concentration (ppm)"); }, 436);

// ================= panel (c) =================
var pc = makePanel("c", { left: 61, top: 374, w: 316, h: 220 }, [1900, 2300], [0, 10]);
members(pc, tRcp85Years, tRcp85Members, col85, 1.7);
members(pc, tHistYears, tHistMembers, col26, 1.6);
members(pc, tRcp26Years, tRcp26Members, col26, 2);
median(pc, tRcp85Years, tRcp85Median, colRed);
median(pc, tHistYears, tHistMedian, colBlue);
median(pc, tRcp26Years, tRcp26Median, colBlue);
drawAxes(pc, yearTicks, range(1900, 2300, 20), tYTicks, range(0, 10, 0.5), d3.format("d"), d3.format("d"), 7);
legend(pc, 16, 22, 43);
texts(pc, "(c)", function(t) { t.text("Temperature response"); }, 365, 350,
  function(t) { t.text("Year"); }, 631, "14.5px",
  function(t) { degLabel(t, "Warming "); }, 23);

// ================= panel (d) =================
var pd = makePanel("d", { left: 494, top: 375, w: 316, h: 220 }, [2000, 2300], [-0.1, 0.4]);
members(pd, pulseYears, pulseRcp85Members, col85, 1.7);
members(pd, pulseYears, pulseRcp26Members, col26, 1.7);
median(pd, pulseYears, pulseRcp85Median, colRed);
median(pd, pulseYears, pulseRcp26Median, colBlue);
median(pd, pulsePreYears, pulsePre, colBlue);
drawAxes(pd, pulseXTicks, range(2000, 2300, 10), pulseYTicks, range(-0.1, 0.4, 0.01), d3.format("d"), d3.format(".1f"), 6);
texts(pd, "(d)", function(t) { t.text("100GtC pulse in 2020"); }, 365, 350,
  function(t) { t.text("Year"); }, 631, "14.5px",
  function(t) { degLabel(t, "Warming response "); }, 446);

</script>
</body>
</html>
